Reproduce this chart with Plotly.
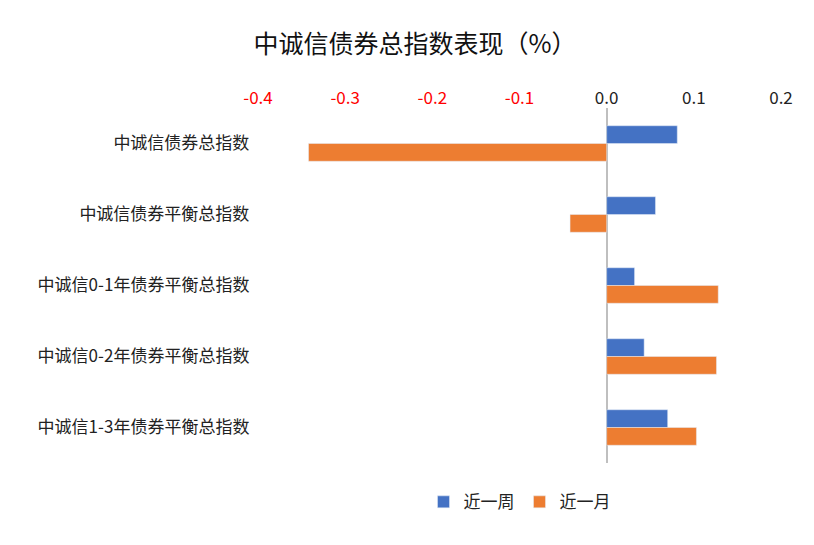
import plotly.graph_objects as go

categories = ['中诚信债券总指数', '中诚信债券平衡总指数', '中诚信0-1年债券平衡总指数',
              '中诚信0-2年债券平衡总指数', '中诚信1-3年债券平衡总指数']
week = [0.081, 0.056, 0.032, 0.043, 0.070]
month = [-0.342, -0.042, 0.128, 0.126, 0.103]
tick_vals = [-0.4, -0.3, -0.2, -0.1, 0.0, 0.1, 0.2]
tick_text = ['<span style="color:red">-0.4</span>', '<span style="color:red">-0.3</span>',
             '<span style="color:red">-0.2</span>', '<span style="color:red">-0.1</span>',
             '0.0', '0.1', '0.2']

fig = go.Figure()
fig.add_trace(go.Bar(y=categories, x=week, orientation='h', name='近一周', marker_color='#4472C4'))
fig.add_trace(go.Bar(y=categories, x=month, orientation='h', name='近一月', marker_color='#ED7D31'))

fig.update_layout(
    width=814, height=545,
    font=dict(family='Noto Sans CJK SC', size=17, color='#222'),
    title=dict(text='中诚信债券总指数表现（%）', x=0.5, y=0.95, xanchor='center',
               font=dict(size=25, color='#111')),
    barmode='group', bargap=0.5, bargroupgap=0,
    margin=dict(l=250, r=41, t=100, b=90),
    plot_bgcolor='white', paper_bgcolor='white',
    xaxis=dict(side='top', range=[-0.4, 0.2], tickvals=tick_vals, ticktext=tick_text,
               showgrid=False, zeroline=True, zerolinecolor='#bfbfbf', zerolinewidth=1.5),
    yaxis=dict(autorange='reversed', showgrid=False, ticksuffix='  '),
    legend=dict(orientation='h', x=0.5, xanchor='center', y=-0.06, yanchor='top',
                font=dict(size=17)),
)

fig.write_html('out.html')
